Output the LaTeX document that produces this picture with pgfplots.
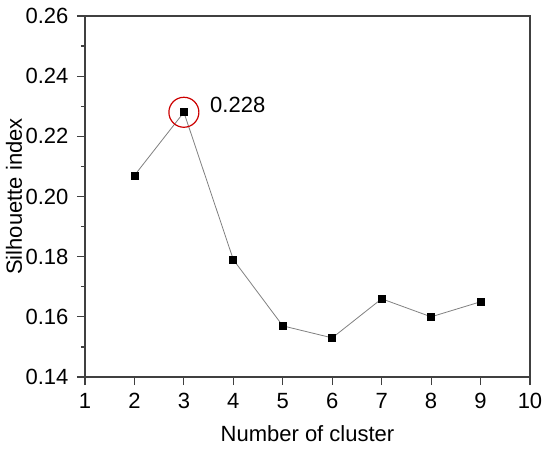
\documentclass[border=0pt]{standalone}
\usepackage{pgfplots}
\pgfplotsset{compat=1.18}
\usepackage{fontspec}
\setmainfont{Liberation Sans}
\begin{document}
\fontsize{22}{25}\selectfont
\begin{tikzpicture}[x=1pt,y=1pt]
\path[use as bounding box] (-85,-74) rectangle (465,377);
\begin{axis}[
  at={(0,0)}, anchor=origin,
  scale only axis, width=445pt, height=361pt,
  xmin=1, xmax=10, ymin=0.14, ymax=0.26,
  xtick={1,...,10},
  ytick={0.14,0.16,...,0.26},
  minor ytick={0.15,0.17,...,0.25},
  yticklabel style={xshift=-1pt, /pgf/number format/.cd, fixed, fixed zerofill, precision=2},
  /pgf/number format/assume math mode=true,
  tick align=outside,
  axis x line*=bottom, axis y line*=left,
  major tick length=8pt, minor tick length=4pt,
  axis line style={draw=black!75, line width=1.4pt},
  every tick/.style={draw=black!75, line width=1.2pt},
  ticklabel style={font=\fontsize{22}{25}\selectfont},
  xticklabel style={yshift=-1pt},
  xlabel={Number of cluster},
  ylabel={Silhouette index},
  label style={font=\fontsize{22}{25}\selectfont},
  xlabel style={at={(axis description cs:0.5,0)}, anchor=center, yshift=-57pt},
  ylabel style={at={(axis description cs:0,0.5)}, anchor=center, rotate=0, yshift=71pt},
  clip=false,
]
\draw[draw=black!75, line width=1.4pt] (rel axis cs:0,1) -- (rel axis cs:1,1) -- (rel axis cs:1,0);
\addplot[color=gray, line width=0.8pt, mark=square*, mark size=3.5pt, mark options={fill=black, draw=black, solid}]
coordinates {(2,0.207) (3,0.228) (4,0.179) (5,0.157) (6,0.153) (7,0.166) (8,0.160) (9,0.165)};
\addplot[only marks, mark=o, mark size=15pt, mark options={draw=red!80!black, line width=1.2pt}]
coordinates {(3,0.228)};
\node[anchor=west, font=\fontsize{22}{25}\selectfont] at (axis cs:3.38,0.2305) {0.228};
\end{axis}
\end{tikzpicture}
\end{document}
